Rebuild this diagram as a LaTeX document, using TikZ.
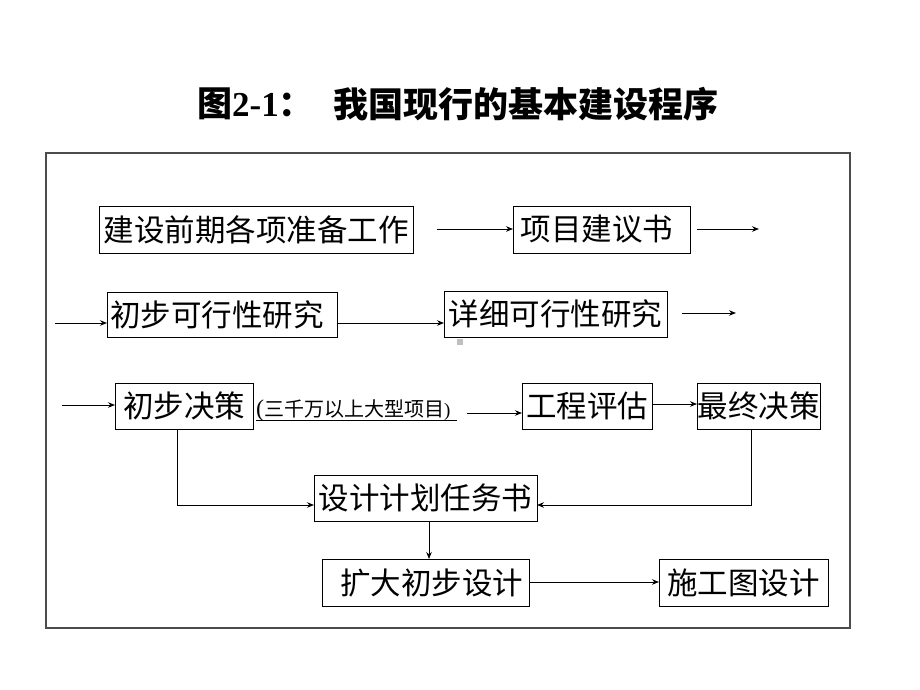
\documentclass[tikz,border=0pt]{standalone}
\usepackage{fontspec}
\setmainfont{Liberation Serif}
\newfontfamily\cjk{Noto Sans CJK SC}
\usetikzlibrary{arrows.meta}
\tikzset{
  box/.style={draw=black, line width=0.9pt, inner sep=0pt, outer sep=0pt, font=\cjk\fontsize{30.5}{31}\selectfont},
  arr/.style={line width=0.9pt, -{Stealth[length=7pt,width=5.5pt]}},
  frame/.style={draw=black!70, line width=1.5pt},
  ttl/.style={inner sep=0pt, anchor=west, font=\fontsize{35}{36}\selectfont\bfseries}
}
\begin{document}
\begin{tikzpicture}[x=1pt,y=-1pt]
\useasboundingbox (0,0) rectangle (920,690);
\fill[white] (0,0) rectangle (920,690);
% title
\node[ttl] (t1) at (197,104) {{\cjk 图}2-1{\cjk ：}};
\node[ttl] (t2) at (333,104) {\cjk 我国现行的基本建设程序};
% frame
\draw[frame] (46,153) rectangle (850,628);
% boxes
\node[box, minimum width=314pt, minimum height=47pt] (b1) at (256,229.5) {建设前期各项准备工作};
\node[box, minimum width=177pt, minimum height=47pt] (b2) at (601.5,229.5) {项目建议书\hspace*{9pt}};
\node[box, minimum width=230pt, minimum height=45pt] (b3) at (222,314.5) {初步可行性研究\hspace*{10pt}};
\node[box, minimum width=223pt, minimum height=46pt] (b4) at (555.5,314) {详细可行性研究};
\node[box, minimum width=138pt, minimum height=46pt] (b5) at (184,406) {初步决策};
\node[box, minimum width=130pt, minimum height=46pt] (b6) at (587,406) {工程评估};
\node[box, minimum width=123pt, minimum height=46pt] (b7) at (758.5,406) {最终决策};
\node[box, minimum width=223pt, minimum height=46pt] (b8) at (425.5,498) {设计计划任务书};
\node[box, minimum width=207pt, minimum height=47pt] (b9) at (425.5,582.5) {\hspace*{12pt}扩大初步设计};
\node[box, minimum width=169pt, minimum height=47pt] (b10) at (743.5,582.5) {施工图设计};
% annotation
\node[inner sep=0pt, anchor=base west] (ann) at (256,416) {{\fontsize{24}{24}\selectfont(}{\cjk\fontsize{20}{20}\selectfont 三千万以上大型项目}{\fontsize{19}{19}\selectfont)}};
\coordinate (u1) at (256,420);
\coordinate (u2) at (457,420);
\draw[line width=1pt] (u1) -- (u2);
% grey mark
\fill[black!25] (457,339) rectangle (463,345);
% free ends
\coordinate (s1) at (437,229);
\coordinate (s2a) at (697,229);
\coordinate (s2b) at (759,229);
\coordinate (s3) at (55,323);
\coordinate (s5a) at (682,313);
\coordinate (s5b) at (736,313);
\coordinate (s6) at (62,405);
\coordinate (s7) at (467,413);
\coordinate (c9) at (751,505);
\coordinate (c10) at (177,505);
% arrows
\draw[arr] (s1) -- (b2.west |- s1);
\draw[arr] (s2a) -- (s2b);
\draw[arr] (s3) -- (b3.west |- s3);
\draw[arr] (b3.east |- s3) -- (b4.west |- s3);
\draw[arr] (s5a) -- (s5b);
\draw[arr] (s6) -- (b5.west |- s6);
\draw[arr] (s7) -- (b6.west |- s7);
\draw[arr] (b6.east |- 0,404) -- (b7.west |- 0,404);
\draw[arr] (b7.south -| c9) -- (c9) -- (b8.east |- c9);
\draw[arr] (b5.south -| c10) -- (c10) -- (b8.west |- c10);
\draw[arr] (b8.south -| 429,0) -- (b9.north -| 429,0);
\draw[arr] (b9.east |- 0,582) -- (b10.west |- 0,582);
\end{tikzpicture}
\end{document}
